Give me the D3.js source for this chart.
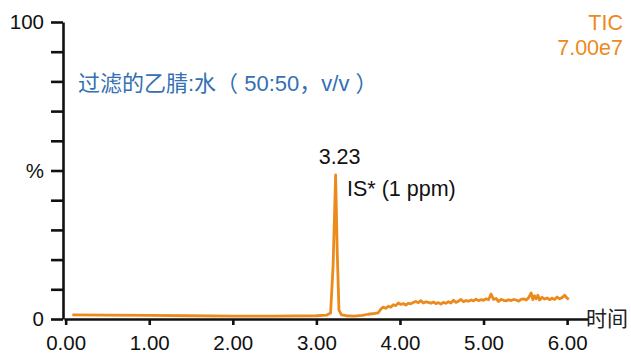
<!DOCTYPE html>
<html>
<head>
<meta charset="utf-8">
<script src="https://cdn.jsdelivr.net/npm/d3@7"></script>
<style>
  body { margin: 0; background: #fff; }
  svg { display: block; font-family: "Liberation Sans", Arial, "Noto Sans CJK SC", sans-serif; }
</style>
</head>
<body>
<svg id="chart" width="631" height="355"></svg>
<script>
// retention time (min) and relative intensity (%)
const times = [
  0.08, 0.5, 1.0, 1.5, 2.0, 2.5, 3.0, 3.12, 3.17, 3.2, 3.23, 3.25, 3.27, 3.3,
  3.36, 3.45, 3.55, 3.62, 3.70, 3.74, 3.77, 3.80, 3.83, 3.86, 3.89, 3.92, 3.95, 3.98,
  4.01, 4.04, 4.07, 4.10, 4.13, 4.16, 4.19, 4.22, 4.25, 4.28, 4.31, 4.34, 4.37, 4.40,
  4.43, 4.46, 4.49, 4.52, 4.55, 4.58, 4.61, 4.64, 4.67, 4.70, 4.73, 4.76, 4.79, 4.82,
  4.85, 4.88, 4.91, 4.94, 4.97, 5.00, 5.03, 5.06, 5.09, 5.12, 5.15, 5.18, 5.21, 5.24,
  5.27, 5.30, 5.33, 5.36, 5.39, 5.42, 5.45, 5.48, 5.51, 5.54, 5.57, 5.59, 5.61, 5.63,
  5.65, 5.67, 5.70, 5.73, 5.76, 5.79, 5.82, 5.85, 5.88, 5.91, 5.94, 5.97, 6.00, 6.02
];
const intensity = [
  1.4, 1.3, 1.2, 1.1, 1.0, 1.0, 1.1, 1.3, 2.0, 18, 48.5, 22, 3.0, 1.4,
  1.1, 1.0, 1.2, 1.6, 1.9, 2.1, 3.3, 4.0, 3.6, 4.3, 4.0, 4.8, 4.5, 5.4,
  4.9, 5.2, 4.7, 5.3, 5.1, 5.6, 5.9, 5.5, 6.2, 5.4, 5.8, 5.6, 5.3, 5.7,
  5.2, 5.5, 5.0, 5.6, 5.3, 5.8, 5.4, 6.3, 5.6, 6.0, 6.6, 5.8, 6.2, 6.0,
  6.4, 6.1, 6.7, 6.2, 6.5, 6.3, 6.8, 6.5, 8.4, 6.6, 6.9, 5.9, 6.6, 6.3,
  6.1, 6.5, 6.2, 6.6, 6.4, 6.0, 6.6, 6.8, 6.4, 7.2, 8.8, 6.5, 7.8, 6.8,
  8.0, 6.4, 7.3, 6.7, 7.1, 6.5, 7.0, 6.6, 7.4, 6.8, 7.2, 8.0, 7.0, 6.6
];
const xTicks = [0, 1, 2, 3, 4, 5, 6];
const yTicks = [0, 10, 20, 30, 40, 50, 60, 70, 80, 90, 100];
const yLabelValues = [0, 50, 100];
const yLabelTexts = ['0', '%', '100'];
const peakTime = 3.23;
const peakValue = 48.5;

const svg = d3.select('#chart');
const orange = '#ec8a1c';

const x = d3.scaleLinear().domain([-0.02, 6.25]).range([64, 588]);
const y = d3.scaleLinear().domain([0, 100]).range([319, 22]);

// X axis
const xAxis = svg.append('g')
  .attr('transform', `translate(0, ${y(0)})`)
  .call(d3.axisBottom(x).tickValues(xTicks).tickSize(6).tickSizeOuter(0)
    .tickPadding(10).tickFormat(d3.format('.2f')));

// Y axis
const yAxis = svg.append('g')
  .attr('transform', 'translate(63, 0)')
  .call(d3.axisLeft(y).tickValues(yTicks).tickSize(12).tickSizeOuter(0).tickFormat(''));

[xAxis, yAxis].forEach((g) => {
  g.selectAll('path, line').attr('stroke', '#111').attr('stroke-width', 2.6);
  g.selectAll('text').attr('fill', '#111').style('font-size', '20.5px')
    .style('font-family', '"Liberation Sans", Arial, sans-serif');
});

svg.append('g').selectAll('text')
  .data(yLabelValues)
  .join('text')
  .attr('x', 44)
  .attr('y', (d) => y(d) + 7)
  .attr('text-anchor', 'end')
  .attr('fill', '#111')
  .style('font-size', '20.5px')
  .text((d, i) => yLabelTexts[i]);

svg.append('text')
  .attr('x', 586).attr('y', 326)
  .attr('fill', '#222')
  .style('font-size', '21px')
  .style('font-family', '"Noto Sans CJK SC", sans-serif')
  .text('时间');

// TIC trace
const line = d3.line()
  .x((d, i) => x(times[i]))
  .y((d) => y(d));

svg.append('path')
  .datum(intensity)
  .attr('d', line)
  .attr('fill', 'none')
  .attr('stroke', orange)
  .attr('stroke-width', 2.8)
  .attr('stroke-linejoin', 'round');

// annotations
svg.append('text')
  .attr('x', x(peakTime) + 4).attr('y', y(peakValue) - 11)
  .attr('text-anchor', 'middle')
  .attr('fill', '#111')
  .style('font-size', '21.5px')
  .text('3.23');

svg.append('text')
  .attr('x', 347).attr('y', 196)
  .attr('fill', '#111')
  .style('font-size', '21.5px')
  .text('IS* (1 ppm)');

svg.append('text')
  .attr('x', 623).attr('y', 30)
  .attr('text-anchor', 'end')
  .attr('fill', orange)
  .style('font-size', '21.5px')
  .text('TIC');

svg.append('text')
  .attr('x', 623).attr('y', 55)
  .attr('text-anchor', 'end')
  .attr('fill', orange)
  .style('font-size', '21.5px')
  .text('7.00e7');

svg.append('text')
  .attr('x', 78).attr('y', 91)
  .attr('fill', '#3470b3')
  .style('font-size', '22px')
  .style('font-family', '"Liberation Sans", "Noto Sans CJK SC", sans-serif')
  .text('过滤的乙腈:水（ 50:50，v/v ）');
</script>
</body>
</html>
